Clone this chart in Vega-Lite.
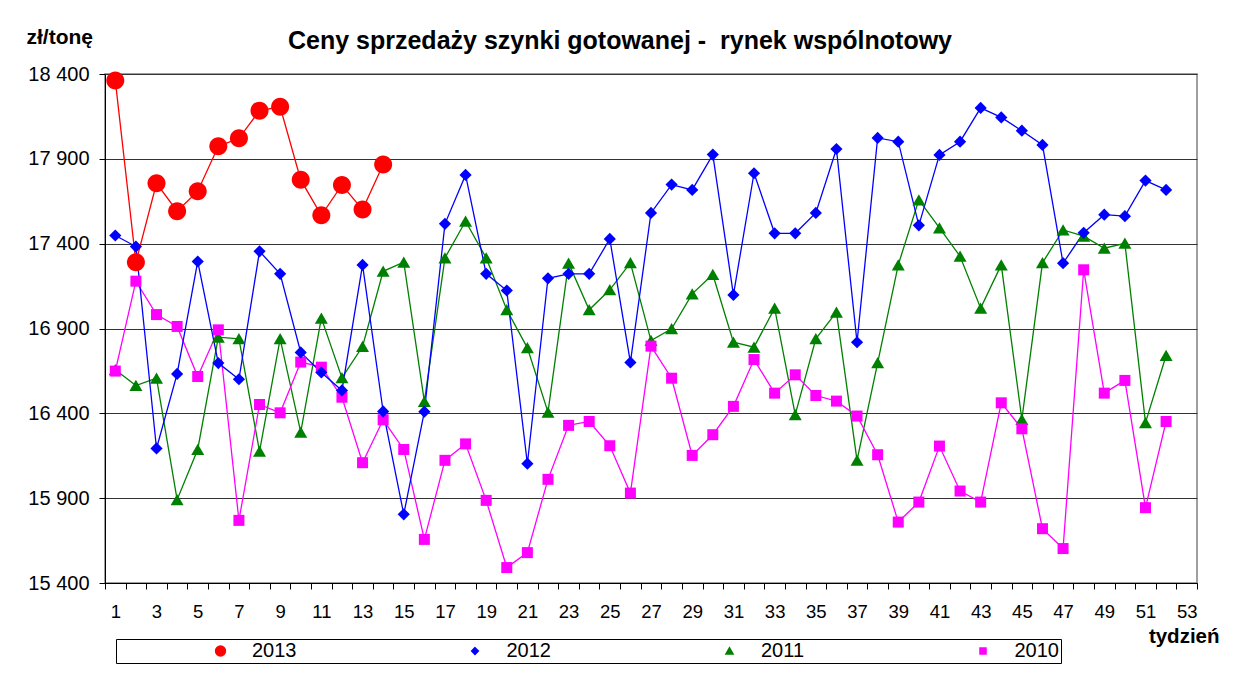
{
  "$schema": "https://vega.github.io/schema/vega-lite/v6.json",
  "width": 1092,
  "height": 509,
  "autosize": "none",
  "padding": {"left": 105, "top": 74, "right": 37, "bottom": 90},
  "background": "white",
  "title": {
    "text": "Ceny sprzedaży szynki gotowanej -\u00a0 rynek wspólnotowy",
    "font": "Liberation Sans",
    "fontSize": 25,
    "fontWeight": "bold",
    "color": "black",
    "anchor": "middle",
    "frame": "group",
    "dx": -31,
    "baseline": "alphabetic",
    "offset": -48
  },
  "data": {
    "values": [
      {"rok":"2011","tydzien":1,"cena":16657},{"rok":"2011","tydzien":2,"cena":16564},{"rok":"2011","tydzien":3,"cena":16607},{"rok":"2011","tydzien":4,"cena":15891},{"rok":"2011","tydzien":5,"cena":16187},{"rok":"2011","tydzien":6,"cena":16849},{"rok":"2011","tydzien":7,"cena":16839},{"rok":"2011","tydzien":8,"cena":16176},{"rok":"2011","tydzien":9,"cena":16839},{"rok":"2011","tydzien":10,"cena":16289},{"rok":"2011","tydzien":11,"cena":16961},{"rok":"2011","tydzien":12,"cena":16609},{"rok":"2011","tydzien":13,"cena":16794},{"rok":"2011","tydzien":14,"cena":17237},{"rok":"2011","tydzien":15,"cena":17291},{"rok":"2011","tydzien":16,"cena":16470},{"rok":"2011","tydzien":17,"cena":17316},{"rok":"2011","tydzien":18,"cena":17532},{"rok":"2011","tydzien":19,"cena":17316},{"rok":"2011","tydzien":20,"cena":17010},{"rok":"2011","tydzien":21,"cena":16786},{"rok":"2011","tydzien":22,"cena":16407},{"rok":"2011","tydzien":23,"cena":17285},{"rok":"2011","tydzien":24,"cena":17010},{"rok":"2011","tydzien":25,"cena":17128},{"rok":"2011","tydzien":26,"cena":17287},{"rok":"2011","tydzien":27,"cena":16829},{"rok":"2011","tydzien":28,"cena":16898},{"rok":"2011","tydzien":29,"cena":17104},{"rok":"2011","tydzien":30,"cena":17218},{"rok":"2011","tydzien":31,"cena":16819},{"rok":"2011","tydzien":32,"cena":16790},{"rok":"2011","tydzien":33,"cena":17020},{"rok":"2011","tydzien":34,"cena":16392},{"rok":"2011","tydzien":35,"cena":16839},{"rok":"2011","tydzien":36,"cena":16996},{"rok":"2011","tydzien":37,"cena":16123},{"rok":"2011","tydzien":38,"cena":16698},{"rok":"2011","tydzien":39,"cena":17275},{"rok":"2011","tydzien":40,"cena":17658},{"rok":"2011","tydzien":41,"cena":17493},{"rok":"2011","tydzien":42,"cena":17326},{"rok":"2011","tydzien":43,"cena":17020},{"rok":"2011","tydzien":44,"cena":17275},{"rok":"2011","tydzien":45,"cena":16364},{"rok":"2011","tydzien":46,"cena":17287},{"rok":"2011","tydzien":47,"cena":17481},{"rok":"2011","tydzien":48,"cena":17444},{"rok":"2011","tydzien":49,"cena":17373},{"rok":"2011","tydzien":50,"cena":17402},{"rok":"2011","tydzien":51,"cena":16345},{"rok":"2011","tydzien":52,"cena":16741},
      {"rok":"2010","tydzien":1,"cena":16649},{"rok":"2010","tydzien":2,"cena":17179},{"rok":"2010","tydzien":3,"cena":16982},{"rok":"2010","tydzien":4,"cena":16912},{"rok":"2010","tydzien":5,"cena":16617},{"rok":"2010","tydzien":6,"cena":16892},{"rok":"2010","tydzien":7,"cena":15769},{"rok":"2010","tydzien":8,"cena":16452},{"rok":"2010","tydzien":9,"cena":16403},{"rok":"2010","tydzien":10,"cena":16702},{"rok":"2010","tydzien":11,"cena":16672},{"rok":"2010","tydzien":12,"cena":16495},{"rok":"2010","tydzien":13,"cena":16109},{"rok":"2010","tydzien":14,"cena":16362},{"rok":"2010","tydzien":15,"cena":16187},{"rok":"2010","tydzien":16,"cena":15657},{"rok":"2010","tydzien":17,"cena":16123},{"rok":"2010","tydzien":18,"cena":16220},{"rok":"2010","tydzien":19,"cena":15887},{"rok":"2010","tydzien":20,"cena":15491},{"rok":"2010","tydzien":21,"cena":15579},{"rok":"2010","tydzien":22,"cena":16011},{"rok":"2010","tydzien":23,"cena":16329},{"rok":"2010","tydzien":24,"cena":16352},{"rok":"2010","tydzien":25,"cena":16209},{"rok":"2010","tydzien":26,"cena":15930},{"rok":"2010","tydzien":27,"cena":16796},{"rok":"2010","tydzien":28,"cena":16607},{"rok":"2010","tydzien":29,"cena":16152},{"rok":"2010","tydzien":30,"cena":16274},{"rok":"2010","tydzien":31,"cena":16441},{"rok":"2010","tydzien":32,"cena":16717},{"rok":"2010","tydzien":33,"cena":16519},{"rok":"2010","tydzien":34,"cena":16627},{"rok":"2010","tydzien":35,"cena":16505},{"rok":"2010","tydzien":36,"cena":16472},{"rok":"2010","tydzien":37,"cena":16384},{"rok":"2010","tydzien":38,"cena":16156},{"rok":"2010","tydzien":39,"cena":15759},{"rok":"2010","tydzien":40,"cena":15877},{"rok":"2010","tydzien":41,"cena":16207},{"rok":"2010","tydzien":42,"cena":15942},{"rok":"2010","tydzien":43,"cena":15877},{"rok":"2010","tydzien":44,"cena":16462},{"rok":"2010","tydzien":45,"cena":16309},{"rok":"2010","tydzien":46,"cena":15720},{"rok":"2010","tydzien":47,"cena":15603},{"rok":"2010","tydzien":48,"cena":17246},{"rok":"2010","tydzien":49,"cena":16519},{"rok":"2010","tydzien":50,"cena":16594},{"rok":"2010","tydzien":51,"cena":15844},{"rok":"2010","tydzien":52,"cena":16352},
      {"rok":"2012","tydzien":1,"cena":17448},{"rok":"2012","tydzien":2,"cena":17383},{"rok":"2012","tydzien":3,"cena":16193},{"rok":"2012","tydzien":4,"cena":16632},{"rok":"2012","tydzien":5,"cena":17295},{"rok":"2012","tydzien":6,"cena":16696},{"rok":"2012","tydzien":7,"cena":16601},{"rok":"2012","tydzien":8,"cena":17355},{"rok":"2012","tydzien":9,"cena":17222},{"rok":"2012","tydzien":10,"cena":16759},{"rok":"2012","tydzien":11,"cena":16641},{"rok":"2012","tydzien":12,"cena":16535},{"rok":"2012","tydzien":13,"cena":17275},{"rok":"2012","tydzien":14,"cena":16411},{"rok":"2012","tydzien":15,"cena":15805},{"rok":"2012","tydzien":16,"cena":16410},{"rok":"2012","tydzien":17,"cena":17517},{"rok":"2012","tydzien":18,"cena":17805},{"rok":"2012","tydzien":19,"cena":17222},{"rok":"2012","tydzien":20,"cena":17124},{"rok":"2012","tydzien":21,"cena":16103},{"rok":"2012","tydzien":22,"cena":17196},{"rok":"2012","tydzien":23,"cena":17222},{"rok":"2012","tydzien":24,"cena":17222},{"rok":"2012","tydzien":25,"cena":17428},{"rok":"2012","tydzien":26,"cena":16700},{"rok":"2012","tydzien":27,"cena":17581},{"rok":"2012","tydzien":28,"cena":17748},{"rok":"2012","tydzien":29,"cena":17717},{"rok":"2012","tydzien":30,"cena":17925},{"rok":"2012","tydzien":31,"cena":17098},{"rok":"2012","tydzien":32,"cena":17815},{"rok":"2012","tydzien":33,"cena":17461},{"rok":"2012","tydzien":34,"cena":17461},{"rok":"2012","tydzien":35,"cena":17581},{"rok":"2012","tydzien":36,"cena":17958},{"rok":"2012","tydzien":37,"cena":16819},{"rok":"2012","tydzien":38,"cena":18023},{"rok":"2012","tydzien":39,"cena":18001},{"rok":"2012","tydzien":40,"cena":17508},{"rok":"2012","tydzien":41,"cena":17923},{"rok":"2012","tydzien":42,"cena":18001},{"rok":"2012","tydzien":43,"cena":18200},{"rok":"2012","tydzien":44,"cena":18144},{"rok":"2012","tydzien":45,"cena":18066},{"rok":"2012","tydzien":46,"cena":17982},{"rok":"2012","tydzien":47,"cena":17285},{"rok":"2012","tydzien":48,"cena":17464},{"rok":"2012","tydzien":49,"cena":17571},{"rok":"2012","tydzien":50,"cena":17562},{"rok":"2012","tydzien":51,"cena":17772},{"rok":"2012","tydzien":52,"cena":17717},
      {"rok":"2013","tydzien":1,"cena":18361},{"rok":"2013","tydzien":2,"cena":17290},{"rok":"2013","tydzien":3,"cena":17756},{"rok":"2013","tydzien":4,"cena":17591},{"rok":"2013","tydzien":5,"cena":17709},{"rok":"2013","tydzien":6,"cena":17974},{"rok":"2013","tydzien":7,"cena":18021},{"rok":"2013","tydzien":8,"cena":18184},{"rok":"2013","tydzien":9,"cena":18207},{"rok":"2013","tydzien":10,"cena":17776},{"rok":"2013","tydzien":11,"cena":17567},{"rok":"2013","tydzien":12,"cena":17746},{"rok":"2013","tydzien":13,"cena":17601},{"rok":"2013","tydzien":14,"cena":17866}
    ]
  },
  "encoding": {
    "x": {
      "field": "tydzien",
      "type": "ordinal",
      "sort": null,
      "scale": {
        "type": "band",
        "domain": [1,2,3,4,5,6,7,8,9,10,11,12,13,14,15,16,17,18,19,20,21,22,23,24,25,26,27,28,29,30,31,32,33,34,35,36,37,38,39,40,41,42,43,44,45,46,47,48,49,50,51,52,53],
        "paddingInner": 0,
        "paddingOuter": 0
      },
      "axis": {
        "labelExpr": "datum.value % 2 === 1 ? datum.label : ''",
        "labelAngle": 0,
        "labelOverlap": false,
        "labelFont": "Liberation Sans",
        "labelFontSize": 18.5,
        "labelColor": "black",
        "labelPadding": 13,
        "tickBand": "extent",
        "tickSize": 6,
        "tickColor": "black",
        "domainColor": "black",
        "domainWidth": 1,
        "grid": false,
        "title": "tydzień",
        "titleFont": "Liberation Sans",
        "titleFontSize": 20.5,
        "titleFontWeight": "bold",
        "titleColor": "black",
        "titleAlign": "right",
        "titleBaseline": "alphabetic",
        "titleX": 1114,
        "titleY": 59
      }
    },
    "y": {
      "field": "cena",
      "type": "quantitative",
      "scale": {"domain": [15400, 18400], "nice": false, "zero": false},
      "axis": {
        "values": [15400, 15900, 16400, 16900, 17400, 17900, 18400],
        "labelExpr": "replace(format(datum.value, ','), ',', ' ')",
        "labelFont": "Liberation Sans",
        "labelFontSize": 20,
        "labelColor": "black",
        "labelPadding": 10,
        "tickSize": 6,
        "tickColor": "black",
        "domainColor": "black",
        "grid": true,
        "gridColor": "#333333",
        "gridWidth": 1,
        "title": "zł/tonę",
        "titleFont": "Liberation Sans",
        "titleFontSize": 21,
        "titleFontWeight": "bold",
        "titleColor": "black",
        "titleAngle": 0,
        "titleAlign": "left",
        "titleBaseline": "alphabetic",
        "titleX": -79,
        "titleY": -31
      }
    },
    "color": {
      "field": "rok",
      "type": "nominal",
      "scale": {"domain": ["2013", "2012", "2011", "2010"], "range": ["#FF0000", "#0000FF", "#008000", "#FF00FF"]},
      "legend": {
        "title": null,
        "orient": "none",
        "legendX": 11,
        "legendY": 565,
        "direction": "horizontal",
        "columns": 4,
        "strokeColor": "black",
        "fillColor": "white",
        "padding": 2,
        "labelFont": "Liberation Sans",
        "labelFontSize": 20,
        "labelColor": "black",
        "labelLimit": 600,
        "symbolSize": 30,
        "symbolStrokeWidth": 1.5,
        "symbolOffset": 92.5,
        "labelOffset": 21.5,
        "columnPadding": 75.5
      }
    }
  },
  "layer": [
    {
      "mark": {"type": "line", "strokeWidth": 1.3},
      "encoding": {"detail": {"field": "rok"}}
    },
    {
      "mark": {"type": "point", "filled": true, "opacity": 1, "size": 100},
      "encoding": {
        "shape": {
          "field": "rok",
          "type": "nominal",
          "scale": {
            "domain": ["2013", "2012", "2011", "2010"],
            "range": [
              "M-1.8,0A1.8,1.8,0,1,0,1.8,0A1.8,1.8,0,1,0,-1.8,0Z",
              "M0,-1.22L1.22,0L0,1.22L-1.22,0Z",
              "M0,-1.15L1.3,1.1L-1.3,1.1Z",
              "M-1.1,-1.1H1.1V1.1H-1.1Z"
            ]
          },
          "legend": null
        }
      }
    }
  ],
  "config": {
    "font": "Liberation Sans",
    "view": {"stroke": "#808080", "strokeWidth": 1.5}
  }
}
